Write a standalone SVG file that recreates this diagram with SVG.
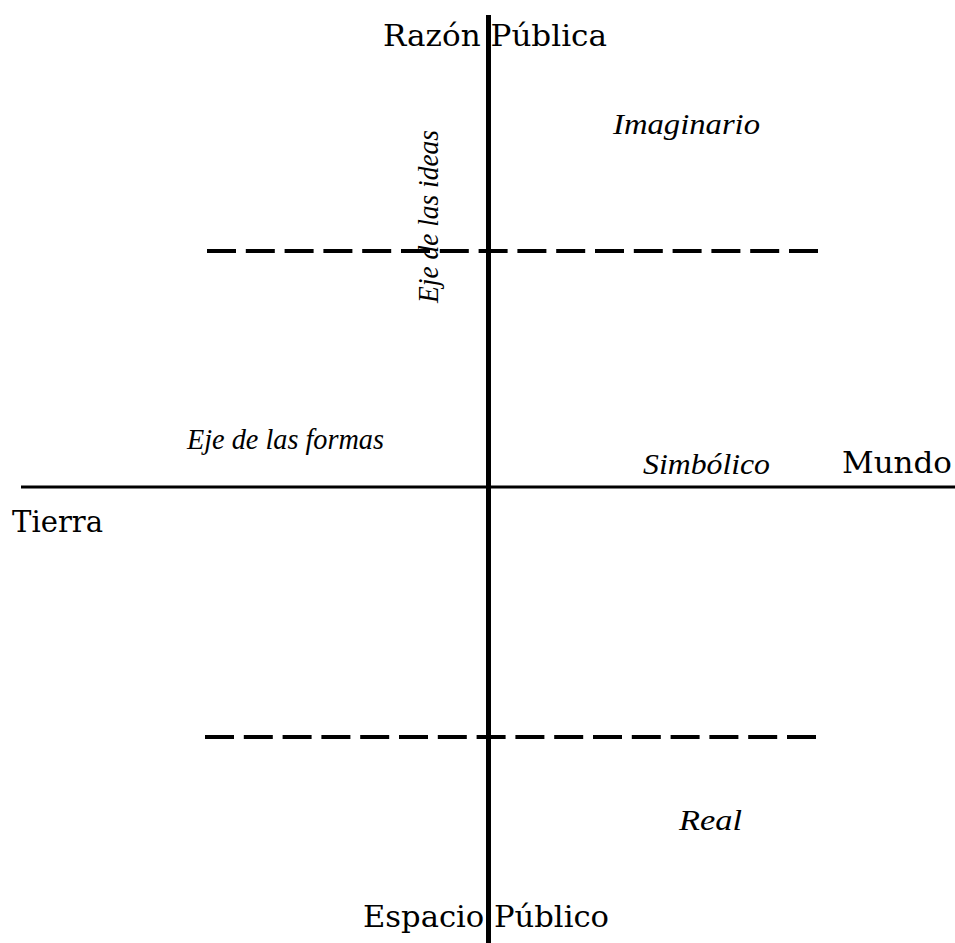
<svg xmlns="http://www.w3.org/2000/svg" width="955" height="943" viewBox="0 0 955 943">
<style>
.lbl{font-family:"DejaVu Serif","Liberation Serif",serif;font-size:30px;fill:#000}
.it{font-family:"Liberation Serif","Times New Roman",serif;font-style:italic;font-size:30px;fill:#000}
.axis{stroke:#000;fill:none}
.dash{stroke:#000;stroke-width:4;stroke-dasharray:29 9.8;fill:none}
</style>
<rect width="955" height="943" fill="#fff"/>
<g id="connectors">
<line class="dash" x1="207" y1="251" x2="818" y2="251"/>
<line class="dash" x1="205" y1="737" x2="816" y2="737"/>
<line class="axis" x1="21" y1="487" x2="955" y2="487" stroke-width="3"/>
<line class="axis" x1="488.5" y1="15" x2="488.5" y2="943" stroke-width="5"/>
</g>
<g id="razon-publica"><text class="lbl" x="383" y="46" textLength="224" lengthAdjust="spacingAndGlyphs">Razón Pública</text></g>
<g id="espacio-publico"><text class="lbl" x="363" y="927" textLength="246" lengthAdjust="spacingAndGlyphs">Espacio Público</text></g>
<g id="mundo"><text class="lbl" x="842" y="473" textLength="110" lengthAdjust="spacingAndGlyphs">Mundo</text></g>
<g id="tierra"><text class="lbl" x="12" y="532" textLength="91" lengthAdjust="spacingAndGlyphs">Tierra</text></g>
<g id="imaginario"><text class="it" x="613" y="134" textLength="147" lengthAdjust="spacingAndGlyphs">Imaginario</text></g>
<g id="simbolico"><text class="it" x="643" y="474" textLength="127" lengthAdjust="spacingAndGlyphs">Simbólico</text></g>
<g id="real"><text class="it" x="679" y="830" textLength="63" lengthAdjust="spacingAndGlyphs">Real</text></g>
<g id="eje-formas"><text class="it" x="187" y="449" textLength="197" lengthAdjust="spacingAndGlyphs">Eje de las formas</text></g>
<g id="eje-ideas"><text class="it" transform="translate(438,303) rotate(-90)" x="0" y="0" textLength="173" lengthAdjust="spacingAndGlyphs">Eje de las ideas</text></g>
</svg>
